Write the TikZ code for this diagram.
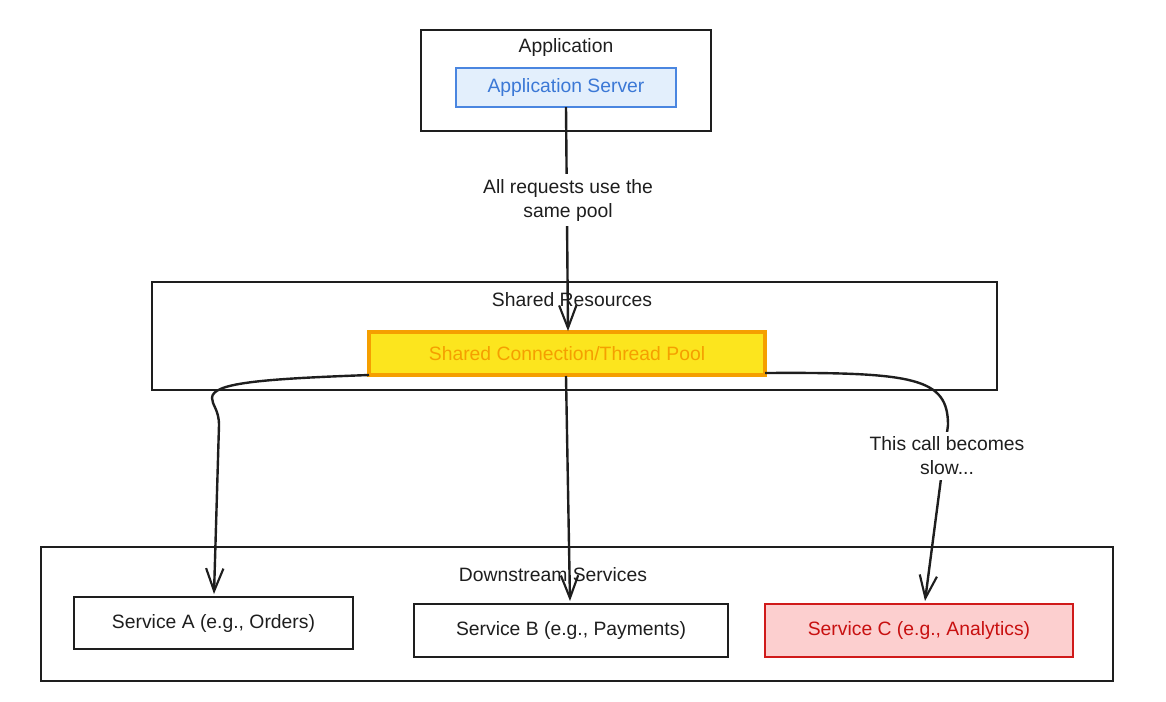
\documentclass[tikz,border=0pt]{standalone}
\usepackage{fontspec}
\setmainfont{Liberation Sans}
\usetikzlibrary{arrows.meta}
\definecolor{ink}{HTML}{1E1E1E}
\definecolor{bluefill}{HTML}{E3EFFC}
\definecolor{blueline}{HTML}{4A86E0}
\definecolor{bluetext}{HTML}{3B78D6}
\definecolor{yelfill}{HTML}{FCE51E}
\definecolor{orange}{HTML}{F59F00}
\definecolor{redfill}{HTML}{FCCFCF}
\definecolor{redline}{HTML}{D01A1A}
\definecolor{redtext}{HTML}{C81010}
\tikzset{
  grp/.style={draw=ink, line width=1.4pt},
  grplabel/.style={font=\fontsize{14.5}{16}\selectfont, text=ink},
  svc/.style={draw=ink, line width=1.6pt, font=\fontsize{14.5}{16}\selectfont, text=ink},
  conn/.style={draw=ink, line width=1.8pt, -{Straight Barb[length=17pt,width=13pt,line width=1.6pt]}},
  lbl/.style={fill=white, inner sep=4pt, align=center, font=\fontsize{14.5}{18}\selectfont, text=ink},
}
\begin{document}
\begin{tikzpicture}[x=0.75pt,y=-0.75pt]
\useasboundingbox (0,0) rectangle (1166,701);
% groups
\draw[grp] (421,30) rectangle (711,131);
\node[grplabel] (appl) at (566,47) {Application};
\draw[grp] (152,282) rectangle (997,390);
\node[grplabel] (sharedl) at (572,300) {Shared Resources};
\draw[grp] (41,547) rectangle (1113,681);
\node[grplabel] (downl) at (553,575) {Downstream Services};
% nodes
\node[draw=blueline, fill=bluefill, line width=1.4pt, text=bluetext, font=\fontsize{14.5}{16}\selectfont,
      minimum width=220*0.75pt, minimum height=39*0.75pt, inner sep=0pt] (srv) at (566,87.5) {Application Server};
\node[draw=orange, fill=yelfill, line width=2.6pt, text=orange, font=\fontsize{14.5}{16}\selectfont,
      minimum width=396*0.75pt, minimum height=43*0.75pt, inner sep=0pt] (pool) at (567,353.5) {Shared Connection/Thread Pool};
\node[svc, minimum width=279*0.75pt, minimum height=52*0.75pt, inner sep=0pt] (sa) at (213.5,623) {Service A (e.g., Orders)};
\node[svc, minimum width=314*0.75pt, minimum height=53*0.75pt, inner sep=0pt] (sb) at (571,630.5) {Service B (e.g., Payments)};
\node[draw=redline, fill=redfill, line width=1.6pt, text=redtext, font=\fontsize{14.5}{16}\selectfont,
      minimum width=308*0.75pt, minimum height=53*0.75pt, inner sep=0pt] (sc) at (919,630.5) {Service C (e.g., Analytics)};
% connectors
\coordinate (srvout) at (566,107);
\coordinate (poolin) at (568,331);
\draw[conn] (srvout) -- (poolin);
\node[lbl] (l1) at (568,200) {All requests use the\\same pool};

\coordinate (pa) at (369,375);
\coordinate (aend) at (214,594);
\draw[conn] (pa) .. controls (260,379) and (212,383) .. (212,398)
  .. controls (212,405) and (219,410) .. (219,425) -- (aend);

\coordinate (pb) at (566,376);
\coordinate (bend) at (570,601);
\draw[conn] (pb) -- (bend);

\coordinate (pc) at (765,373);
\coordinate (cend) at (925,601);
\draw[conn] (pc) .. controls (915,372) and (948,378) .. (948,425) -- (cend);
\node[lbl] (l2) at (947,456) {This call becomes\\slow...};
\end{tikzpicture}
\end{document}
